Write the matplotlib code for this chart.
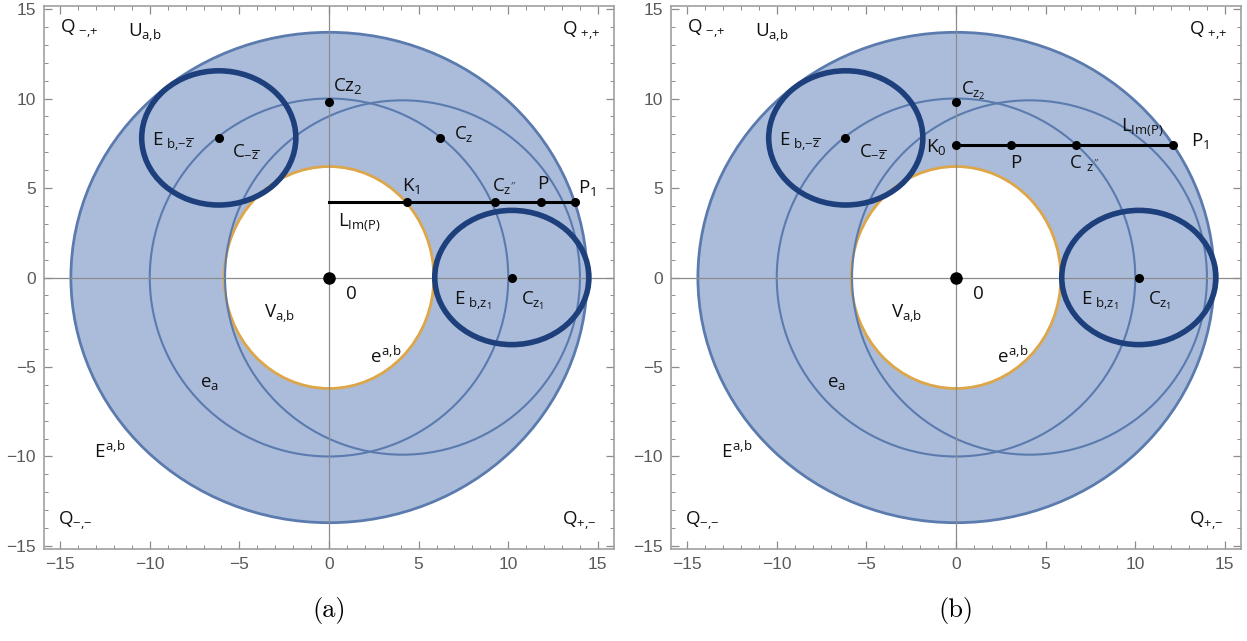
import matplotlib
matplotlib.use("Agg")
import matplotlib.pyplot as plt
from matplotlib.patches import Ellipse, Circle
import numpy as np

# ---------------- data ----------------
outer_semi = (14.4, 13.7)          # E^{a,b}
inner_semi = (5.85, 6.2)           # e^{a,b}
circle_cx = [0.0, 4.1]             # thin circles (centres on real axis)
circle_r = [10.0, 9.9]
thick_semi = (4.3, 3.75)           # E_b ellipses
thick_cx = [10.2, -6.15]
thick_cy = [0.0, 7.8]

# panel (a) points
a_pt_x = [0.0, 0.0, 6.2, 4.35, 9.27, 11.8, 13.75, 10.2, -6.15]
a_pt_y = [0.0, 9.8, 7.8, 4.2, 4.2, 4.2, 4.2, 0.0, 7.8]
a_line_x = [0.0, 13.75]
a_line_y = [4.2, 4.2]

# panel (b) points
b_pt_x = [0.0, 0.0, 0.0, 3.07, 6.7, 12.1, 10.2, -6.2]
b_pt_y = [0.0, 9.8, 7.4, 7.4, 7.4, 7.4, 0.0, 7.8]
b_line_x = [0.0, 12.1]
b_line_y = [7.4, 7.4]

common_labels = [
    (-15.0, 13.9, r'$Q_{\ {-}{,}{+}}$'),
    (-11.2, 13.7, r'$U_{a{,}b}$'),
    (13.0, 13.8, r'$Q_{\ {+}{,}{+}}$'),
    (-15.1, -13.6, r'$Q_{{-}{,}{-}}$'),
    (13.0, -13.6, r'$Q_{{+}{,}{-}}$'),
    (-13.1, -9.7, r'$E^{a{,}b}$'),
    (-7.2, -5.9, r'$e_a$'),
    (-3.6, -2.0, r'$V_{a{,}b}$'),
    (2.3, -4.4, r'$e^{a{,}b}$'),
    (0.9, -0.9, r'$0$'),
    (7.0, -1.3, r'$E_{\ b{,}z_1}$'),
    (10.7, -1.3, r'$C_{z_1}$'),
    (-9.9, 7.6, r'$E_{\ b{,}{-}\overline{z}}$'),
    (-5.4, 7.0, r'$C_{{-}\overline{z}}$'),
]
a_labels = [
    (0.2, 10.7, r'$Cz_2$'),
    (7.0, 8.0, r'$C_z$'),
    (4.1, 5.1, r'$K_1$'),
    (9.1, 5.1, r"$C_{z''}$"),
    (11.6, 5.2, r'$P$'),
    (13.9, 5.0, r'$P_1$'),
    (0.5, 3.1, r'$L_{Im(P)}$'),
]
b_labels = [
    (0.3, 10.4, r'$C_{z_2}$'),
    (-1.7, 7.3, r'$K_0$'),
    (3.0, 6.4, r'$P$'),
    (6.3, 6.4, r"$C\ _{z''}$"),
    (9.2, 8.4, r'$L_{Im(P)}$'),
    (13.1, 7.6, r'$P_1$'),
]
xticks = [-15, -10, -5, 0, 5, 10, 15]
yticks = [-15, -10, -5, 0, 5, 10, 15]

# ---------------- style ----------------
plt.rcParams['mathtext.fontset'] = 'custom'
plt.rcParams['mathtext.rm'] = 'Open Sans'
plt.rcParams['mathtext.it'] = 'Open Sans'
plt.rcParams['mathtext.bf'] = 'Open Sans:bold'
plt.rcParams['font.family'] = ['Open Sans', 'DejaVu Sans']

FILL = '#aabcda'
EDGE = '#5b7bae'
THICK = '#1d3f7c'
ORANGE = '#dca649'
AXC = '#8c8c8c'

fig = plt.figure(figsize=(12.47, 6.41), dpi=100)
W, H = 1247, 641


def panel(ax, pt_x, pt_y, line_x, line_y, labels):
    ax.set_xlim(-15.9, 15.9)
    ax.set_ylim(-15.17, 15.17)
    ax.add_patch(Ellipse((0, 0), 2 * outer_semi[0], 2 * outer_semi[1],
                         facecolor=FILL, edgecolor=EDGE, lw=2.0, zorder=1))
    ax.add_patch(Ellipse((0, 0), 2 * inner_semi[0], 2 * inner_semi[1],
                         facecolor='white', edgecolor=ORANGE, lw=2.0, zorder=2))
    for cx, r in zip(circle_cx, circle_r):
        ax.add_patch(Circle((cx, 0), r, facecolor='none', edgecolor=EDGE,
                            lw=1.5, zorder=3))
    ax.axhline(0, color=AXC, lw=0.9, zorder=4)
    ax.axvline(0, color=AXC, lw=0.9, zorder=4)
    for cx, cy in zip(thick_cx, thick_cy):
        ax.add_patch(Ellipse((cx, cy), 2 * thick_semi[0], 2 * thick_semi[1],
                             facecolor='none', edgecolor=THICK, lw=4.0, zorder=5))
    ax.plot(line_x, line_y, color='black', lw=2.2, zorder=6)
    ax.plot(pt_x[1:], pt_y[1:], 'o', color='black', ms=5.5, zorder=7)
    ax.plot([pt_x[0]], [pt_y[0]], 'o', color='black', ms=8, zorder=7)
    for x, y, s in common_labels + labels:
        ax.text(x, y, s, fontsize=13.5, color='#111111', ha='left', va='center',
                zorder=8)
    ax.set_xticks(xticks)
    ax.set_yticks(yticks)
    ax.set_xticks(np.arange(-15, 16, 1), minor=True)
    ax.set_yticks(np.arange(-15, 16, 1), minor=True)
    ax.tick_params(which='both', direction='in', top=True, right=True,
                   color=AXC, labelcolor='#5a5a5a', labelsize=12.5,
                   labelfontfamily='Liberation Sans')
    ax.tick_params(which='major', length=6, width=0.9, pad=6)
    ax.tick_params(which='minor', length=3, width=0.7)
    for sp in ax.spines.values():
        sp.set_color('#a0a0a0')
        sp.set_linewidth(1.2)


ax_a = fig.add_axes([44 / W, 1 - 549 / H, 570 / W, 543 / H])
panel(ax_a, a_pt_x, a_pt_y, a_line_x, a_line_y, a_labels)
ax_b = fig.add_axes([671 / W, 1 - 549 / H, 570 / W, 543 / H])
panel(ax_b, b_pt_x, b_pt_y, b_line_x, b_line_y, b_labels)

fig.text(329 / W, 1 - 610 / H, '(a)', fontsize=19, family='cmr10',
         ha='center', va='center')
fig.text(956 / W, 1 - 610 / H, '(b)', fontsize=19, family='cmr10',
         ha='center', va='center')

fig.savefig('out.png', dpi=100)
